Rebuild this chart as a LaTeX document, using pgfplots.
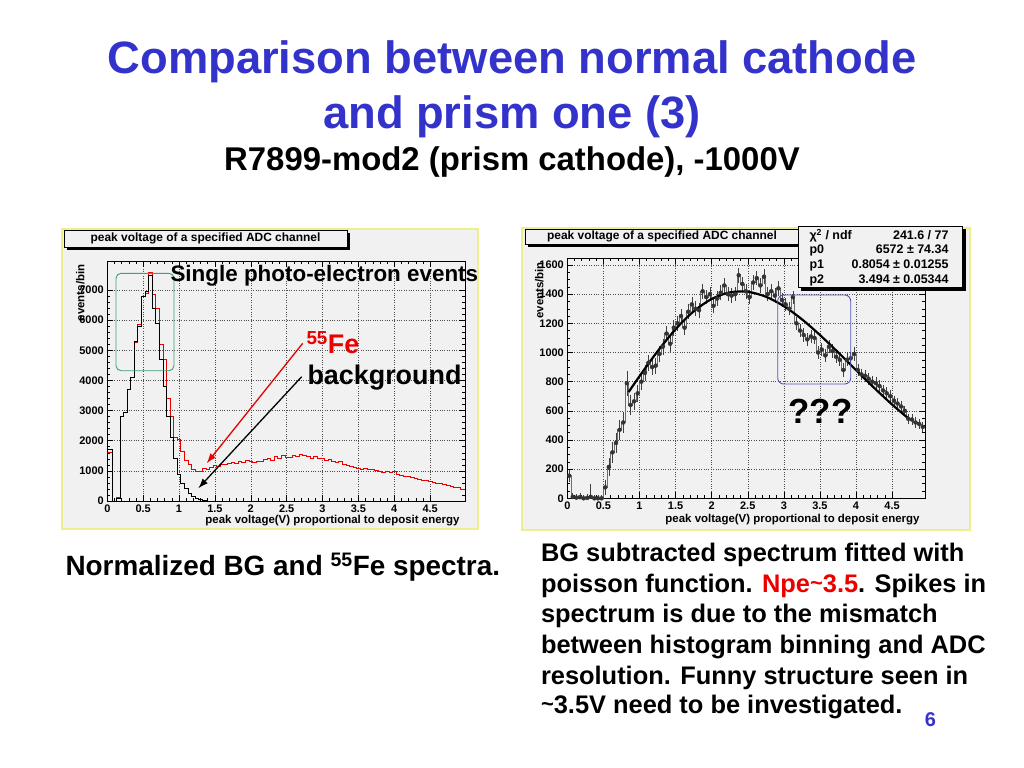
\documentclass[border=0pt]{standalone}
\usepackage{pgfplots}
\usepackage{pgfplotstable}
\pgfplotsset{compat=1.18}
\usepackage{fontspec}
\setmainfont{Liberation Sans}
\usetikzlibrary{arrows.meta}

\definecolor{titleblue}{RGB}{51,51,204}
\definecolor{slidered}{RGB}{235,0,0}
\definecolor{panelbg}{RGB}{241,241,241}
\definecolor{panelrim}{RGB}{238,238,140}
\definecolor{boxgreen}{RGB}{60,160,120}
\definecolor{boxblue}{RGB}{85,85,185}
\definecolor{histgray}{RGB}{110,110,110}

\newcommand\fs[1]{\fontsize{#1}{#1}\selectfont\bfseries}
\newcommand\tld{\raisebox{2bp}{\fontsize{22}{22}\selectfont\char"7E}}

% background (black) and 55Fe (red) spectra, left bin edge / content
\pgfplotstableread{
x y
0 1700
0.075 0
0.125 100
0.175 2800
0.225 2950
0.275 3700
0.325 4100
0.375 5300
0.425 5800
0.475 6800
0.525 6950
0.575 7500
0.625 6400
0.675 5900
0.725 4700
0.775 3800
0.825 2800
0.875 2100
0.925 1400
0.975 900
1.025 600
1.075 420
1.125 250
1.175 150
1.225 90
1.275 40
1.325 15
1.375 5
1.425 0
4.99 0
}\bgdata

\pgfplotstableread{
x y
0 1600
0.075 0
0.125 120
0.175 2820
0.225 2950
0.275 3700
0.325 4100
0.375 5250
0.425 5850
0.475 6800
0.525 6900
0.575 7600
0.625 6850
0.675 6400
0.725 5200
0.775 4700
0.825 3400
0.875 2800
0.925 2100
0.975 2050
1.025 1650
1.075 1350
1.125 1200
1.175 1050
1.225 980
1.275 1000
1.325 1080
1.375 1050
1.425 1130
1.475 1180
1.525 1150
1.575 1230
1.625 1200
1.675 1260
1.725 1280
1.775 1250
1.825 1300
1.875 1280
1.925 1350
1.975 1310
2.025 1290
2.075 1330
2.125 1300
2.175 1380
2.225 1400
2.275 1360
2.325 1480
2.375 1430
2.425 1500
2.475 1450
2.525 1460
2.575 1520
2.625 1480
2.675 1550
2.725 1500
2.775 1470
2.825 1420
2.875 1470
2.925 1430
2.975 1400
3.025 1360
3.075 1380
3.125 1330
3.175 1280
3.225 1300
3.275 1220
3.325 1180
3.375 1150
3.425 1120
3.475 1080
3.525 1050
3.575 1070
3.625 1040
3.675 1060
3.725 1010
3.775 990
3.825 960
3.875 990
3.925 940
3.975 970
4.025 880
4.075 860
4.125 830
4.175 820
4.225 780
4.275 760
4.325 720
4.375 700
4.425 680
4.475 650
4.525 620
4.575 600
4.625 570
4.675 540
4.725 510
4.775 490
4.825 460
4.875 440
4.925 400
4.99 400
}\fedata

% BG subtracted spectrum: left bin edge, content, error
\pgfplotstableread{
x y e
0.00 155 40
0.05 10 25
0.10 5 25
0.15 8 25
0.20 0 20
0.25 3 25
0.30 10 90
0.35 0 20
0.40 0 20
0.45 0 20
0.50 75 50
0.55 215 60
0.60 315 70
0.65 380 70
0.70 470 70
0.75 520 70
0.80 790 85
0.85 640 70
0.90 665 60
0.95 720 60
1.00 800 60
1.05 860 55
1.10 930 55
1.15 900 55
1.20 910 55
1.25 990 55
1.30 1040 55
1.35 1130 55
1.40 1060 55
1.45 1170 55
1.50 1200 50
1.55 1250 50
1.60 1170 50
1.65 1280 50
1.70 1330 50
1.75 1300 50
1.80 1290 50
1.85 1420 50
1.90 1380 50
1.95 1400 50
2.00 1320 50
2.05 1370 50
2.10 1410 50
2.15 1460 50
2.20 1400 50
2.25 1390 50
2.30 1400 50
2.35 1530 50
2.40 1470 50
2.45 1420 50
2.50 1380 50
2.55 1480 50
2.60 1510 50
2.65 1460 50
2.70 1520 50
2.75 1400 50
2.80 1420 50
2.85 1390 50
2.90 1440 50
2.95 1360 45
3.00 1330 45
3.05 1300 45
3.10 1380 45
3.15 1200 45
3.20 1150 45
3.25 1120 45
3.30 1090 45
3.35 1110 45
3.40 1100 45
3.45 1000 45
3.50 1020 45
3.55 980 45
3.60 1040 45
3.65 1010 45
3.70 970 45
3.75 950 45
3.80 880 45
3.85 950 45
3.90 960 45
3.95 990 45
4.00 880 40
4.05 850 40
4.10 840 40
4.15 820 40
4.20 800 40
4.25 790 40
4.30 770 40
4.35 740 40
4.40 720 40
4.45 700 40
4.50 670 35
4.55 650 35
4.60 630 35
4.65 600 35
4.70 545 35
4.75 540 35
4.80 520 35
4.85 510 35
4.90 490 35
4.96 490 0
}\subdata

\pgfplotsset{
  rootaxis/.style={
    scale only axis,
    width=358bp, height=240bp,
    anchor=south west,
    xmin=0,
    xtick={0,0.5,1,1.5,2,2.5,3,3.5,4,4.5},
    minor x tick num=4,
    tick align=inside,
    major tick length=6bp, minor tick length=3bp,
    grid=major,
    major grid style={dotted, black!70, line width=0.5bp},
    axis line style={line width=0.6bp},
    every tick/.style={black, line width=0.5bp},
    tick label style={font=\fs{11}},
    /pgf/number format/assume math mode=true,
    /pgf/number format/1000 sep={},
    scaled ticks=false,
  },
}

\begin{document}
\begin{tikzpicture}[x=1bp, y=-1bp]
\fill[white] (0,0) rectangle (1024,768);

% slide title
\node[font=\fs{45.5}, text=titleblue] at (512,62) {Comparison between normal cathode};
\node[font=\fs{45.5}, text=titleblue] at (512,117) {and prism one (3)};
\node[font=\fs{33}] at (512,162) {R7899-mod2 (prism cathode), -1000V};

% canvas frames
\draw[panelrim, line width=2.5bp, fill=panelbg] (62,229) rectangle (478,529);
\draw[panelrim, line width=2.5bp, fill=panelbg] (522,228) rectangle (970,530);

% left: normalized BG and 55Fe spectra
\begin{axis}[rootaxis, at={(107.3bp,-501bp)}, xmax=4.99, ymin=0, ymax=7960,
  ytick={0,1000,2000,3000,4000,5000,6000,7000}, minor y tick num=4]
\addplot[slidered, line width=0.7bp, const plot] table[x=x, y=y] {\fedata};
\addplot[black, line width=0.7bp, const plot] table[x=x, y=y] {\bgdata};
\end{axis}

% right: BG subtracted spectrum with fit
\begin{axis}[rootaxis, at={(567.3bp,-498.3bp)}, xmax=4.96, ymin=0, ymax=1646,
  ytick={0,200,400,600,800,1000,1200,1400,1600}, minor y tick num=3]
\addplot[histgray, line width=0.7bp, const plot] table[x=x, y=y] {\subdata};
\addplot[black!80, only marks, mark=none,
  error bars/.cd, y dir=both, y explicit, error mark=none,
  error bar style={black!75, line width=0.6bp}]
  table[x expr=\thisrow{x}+0.025, y=y, y error=e] {\subdata};
\addplot[black, line width=2.2bp, smooth] coordinates {
  (0.85,729) (1.0,837) (1.25,1008) (1.5,1160) (1.75,1282) (2.0,1367)
  (2.25,1412) (2.5,1416) (2.75,1383) (3.0,1318) (3.25,1228) (3.5,1120)
  (3.75,1002) (4.0,879) (4.25,758) (4.5,643) (4.73,546)};
\end{axis}

% axis titles
\node[rotate=90, anchor=north east, font=\fs{11.5}] at (72.5,261) {events/bin};
\node[rotate=90, anchor=north east, font=\fs{11.5}] at (531.5,258.5) {events/bin};
\node[anchor=base east, font=\fs{11.5}] at (463,523) {peak voltage(V) proportional to deposit energy};
\node[anchor=base east, font=\fs{11.5}] at (923,522) {peak voltage(V) proportional to deposit energy};

% histogram title boxes
\fill[black] (66.5,232.5) rectangle (349.5,249.5);
\draw[black, fill=panelbg, line width=0.6bp] (64,230) rectangle (347,247);
\node[font=\fs{12}] at (205.5,238.7) {peak voltage of a specified ADC channel};
\fill[black] (527.5,231.5) rectangle (801.5,246.5);
\draw[black, fill=panelbg, line width=0.6bp] (525,229) rectangle (799,244);
\node[font=\fs{12}] at (662,236.7) {peak voltage of a specified ADC channel};

% fit statistics box
\fill[black] (801,229) rectangle (966,290.5);
\draw[black, fill=panelbg, line width=0.6bp] (798,226) rectangle (962,287.7);
\node[anchor=base west, font=\fs{12.5}] at (806,239.5) {χ\textsuperscript{2} / ndf};
\node[anchor=base east, font=\fs{12.5}] at (952,239.5) {241.6 / 77};
\node[anchor=base west, font=\fs{12.5}] at (806,253.5) {p0};
\node[anchor=base east, font=\fs{12.5}] at (952,253.5) {6572 ± 74.34};
\node[anchor=base west, font=\fs{12.5}] at (806,268.5) {p1};
\node[anchor=base east, font=\fs{12.5}] at (952,268.5) {0.8054 ± 0.01255};
\node[anchor=base west, font=\fs{12.5}] at (806,283) {p2};
\node[anchor=base east, font=\fs{12.5}] at (952,283) {3.494 ± 0.05344};

% left annotations
\draw[boxgreen, line width=0.9bp, rounded corners=5bp] (116,273.3) rectangle (174,370.7);
\node[anchor=base west, font=\fs{22.5}] at (167,281.5) {Single photo-electron events};
\node[anchor=base west, font=\fs{27}, text=slidered] at (303,353) {\textsuperscript{55}Fe};
\node[anchor=base west, font=\fs{27}] at (304,384.5) {background};
\draw[slidered, line width=1.3bp, -{Latex[length=10bp,width=7bp]}] (302.7,343.3) -- (206.7,463.3);
\draw[black, line width=1.3bp, -{Latex[length=10bp,width=7bp]}] (301.7,376.7) -- (198.3,488.3);

% right annotations
\draw[boxblue, line width=0.9bp, rounded corners=6bp] (777.7,295) rectangle (850.7,384);
\node[anchor=base, font=\fs{35}] at (820.5,423) {???};

% captions
\node[anchor=base west, font=\fs{28}] at (62,575) {Normalized BG and \textsuperscript{55}Fe spectra.};
\node[anchor=base west, font=\fs{25.5}] at (537.5,561.7) {BG subtracted spectrum fitted with};
\node[anchor=base west, font=\fs{25.5}] at (537.5,592.3) {poisson function. \textcolor{slidered}{Npe\tld3.5}. Spikes in};
\node[anchor=base west, font=\fs{25.5}] at (537.5,622.9) {spectrum is due to the mismatch};
\node[anchor=base west, font=\fs{25.5}] at (537.5,653.5) {between histogram binning and ADC};
\node[anchor=base west, font=\fs{25.5}] at (537.5,684.1) {resolution. Funny structure seen in};
\node[anchor=base west, font=\fs{25.5}] at (537.5,713.5) {\tld3.5V need to be investigated.};
\node[anchor=base, font=\fs{20}, text=titleblue] at (930.5,726.7) {6};
\end{tikzpicture}
\end{document}
